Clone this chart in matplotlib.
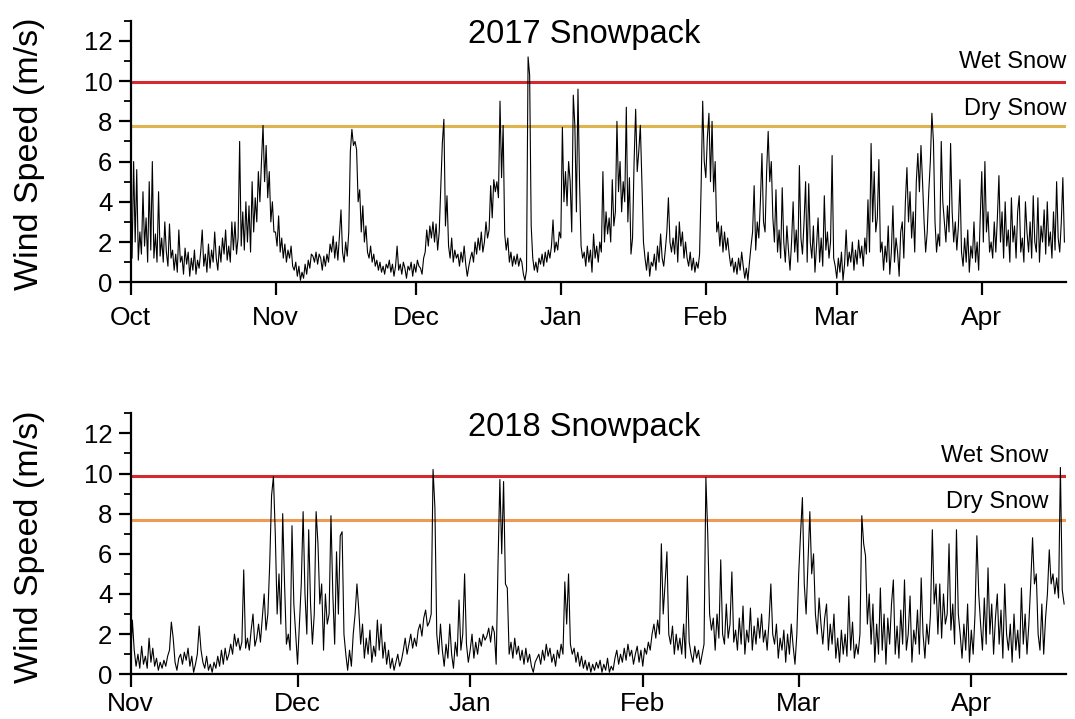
import matplotlib.pyplot as plt
import matplotlib.dates as mdates
from matplotlib.ticker import MultipleLocator
import pandas as pd

plt.rcParams['font.family'] = ['Liberation Sans', 'DejaVu Sans']

# Wind speed (m/s), three readings per day (every 8 h), one week per row
wind_2017 = [
    5.9, 1.2, 6.0, 2.0, 5.6, 1.1, 2.5, 1.4, 4.5, 1.8, 3.2, 1.0, 5.0, 1.6, 6.0, 1.2, 2.4, 1.0, 4.5, 1.3, 2.2,
    1.0, 3.0, 1.5, 0.8, 2.9, 1.2, 1.6, 0.6, 1.4, 0.5, 2.6, 1.0, 1.3, 0.4, 1.7, 0.9, 1.5, 0.3, 1.2, 0.6, 1.6,
    0.4, 1.1, 0.7, 1.5, 2.6, 0.8, 1.4, 0.5, 1.9, 0.7, 1.6, 1.0, 2.5, 1.2, 0.6, 1.8, 1.0, 2.2, 1.4, 2.6, 1.1,
    1.8, 1.0, 3.0, 1.6, 3.0, 1.4, 2.2, 7.0, 1.8, 3.5, 1.6, 4.0, 2.0, 3.8, 1.5, 5.0, 2.5, 4.2, 3.0, 5.5, 4.0,
    6.0, 7.8, 5.0, 6.8, 4.2, 5.5, 3.0, 4.0, 2.5, 2.5, 1.8, 3.3, 1.5, 2.2, 1.2, 1.9, 1.0, 1.6, 1.2, 1.8, 0.8,
    0.6, 1.0, 0.3, 0.8, 0.1, 0.5, 0.2, 0.9, 0.4, 1.1, 0.7, 1.4, 1.3, 1.0, 1.5, 0.9, 1.4, 1.2, 0.6, 1.3, 0.8,
    1.4, 1.0, 1.9, 1.5, 2.3, 1.2, 2.0, 1.1, 2.3, 3.6, 1.5, 1.0, 2.0, 1.3, 2.5, 6.5, 7.6, 6.8, 7.0, 6.6, 4.0,
    4.6, 2.5, 3.8, 2.0, 2.8, 1.5, 1.2, 1.8, 1.0, 1.4, 0.8, 1.1, 0.6, 1.0, 0.5, 0.8, 0.4, 0.9, 0.7, 1.1, 0.5,
    0.9, 0.3, 0.8, 1.8, 0.6, 0.9, 0.4, 1.0, 0.7, 0.2, 0.8, 0.6, 1.0, 0.3, 0.9, 0.5, 1.1, 0.8, 0.7, 0.4, 1.2,
    1.5, 2.6, 1.8, 2.8, 2.2, 3.0, 2.0, 2.9, 1.6, 2.5, 4.7, 6.9, 8.1, 2.8, 4.3, 1.8, 1.2, 2.2, 1.0, 1.6, 1.2,
    1.4, 0.8, 1.5, 1.0, 1.8, 0.9, 0.3, 0.8, 1.2, 1.5, 1.0, 2.0, 1.4, 2.2, 1.6, 2.5, 1.5, 2.0, 3.0, 2.2, 2.6,
    4.8, 3.2, 5.1, 4.5, 5.0, 4.2, 9.0, 5.2, 7.8, 2.4, 1.6, 2.2, 1.0, 1.5, 0.8, 1.3, 0.9, 1.4, 0.8, 1.2, 1.0,
    0.4, 0.1, 0.6, 11.2, 10.3, 2.8, 1.2, 0.6, 1.0, 0.5, 1.2, 0.9, 1.4, 0.8, 1.5, 1.0, 1.6, 1.2, 1.8, 3.1, 1.5,
    2.0, 1.6, 2.5, 2.2, 7.7, 4.0, 5.5, 3.8, 6.0, 5.0, 2.5, 9.3, 7.8, 3.5, 9.6, 5.0, 1.8, 1.2, 1.5, 0.8, 1.8,
    1.0, 1.6, 0.5, 2.4, 1.2, 1.8, 1.0, 2.0, 1.5, 5.5, 2.0, 3.5, 2.4, 3.2, 2.0, 5.1, 2.8, 3.5, 8.0, 4.5, 6.0,
    3.5, 5.0, 4.0, 8.7, 3.0, 5.2, 1.4, 2.2, 6.0, 8.6, 5.5, 6.5, 7.8, 5.0, 2.0, 1.2, 0.6, 1.5, 0.3, 1.0, 0.8,
    1.4, 0.6, 1.8, 1.0, 2.4, 1.2, 0.8, 1.6, 2.5, 4.2, 2.0, 1.5, 2.2, 1.4, 2.8, 1.0, 3.0, 1.8, 2.5, 1.2, 2.0,
    1.2, 0.8, 1.5, 0.6, 1.2, 0.5, 1.0, 0.7, 1.4, 4.8, 9.0, 6.0, 5.2, 7.2, 8.4, 5.0, 8.0, 4.5, 6.0, 2.5, 3.0,
    1.8, 2.8, 1.5, 2.5, 1.6, 2.2, 1.4, 0.8, 1.2, 0.5, 1.0, 0.4, 1.2, 0.6, 1.5, 0.8, 0.2, 0.7, 0.1, 1.0, 1.8,
    2.5, 4.8, 1.6, 3.0, 2.2, 4.0, 6.4, 3.0, 2.5, 5.5, 7.5, 5.0, 6.0, 3.2, 2.0, 4.6, 1.5, 2.6, 1.2, 4.7, 2.0,
    1.0, 2.8, 1.6, 0.6, 2.0, 4.0, 1.5, 2.6, 1.0, 5.8, 2.2, 1.4, 3.0, 5.0, 1.0, 4.9, 2.0, 1.2, 2.8, 0.5, 1.8,
    3.2, 1.0, 2.2, 0.8, 4.3, 1.6, 2.5, 1.2, 2.0, 6.3, 1.2, 0.8, 0.2, 1.2, 0.5, 1.5, 0.1, 0.9, 2.6, 0.8, 1.5,
    1.0, 2.0, 0.6, 1.6, 0.9, 2.1, 1.2, 1.8, 0.8, 2.2, 1.4, 4.1, 1.5, 6.9, 3.0, 5.5, 2.5, 3.2, 6.1, 1.5, 2.0,
    0.6, 1.8, 1.0, 2.8, 0.4, 1.5, 3.8, 1.0, 2.2, 1.5, 0.3, 2.5, 3.0, 1.2, 4.0, 5.7, 3.0, 4.5, 2.2, 3.5, 1.5,
    5.0, 6.4, 4.5, 6.8, 5.0, 3.0, 1.5, 2.5, 4.5, 6.0, 8.4, 7.0, 3.0, 1.5, 2.4, 1.8, 7.0, 4.0, 3.0, 2.0, 3.8,
    2.5, 6.9, 3.5, 2.0, 3.0, 1.6, 2.8, 5.1, 1.5, 0.8, 2.2, 1.0, 2.6, 0.5, 1.8, 1.2, 3.0, 1.0, 2.0, 0.6, 3.2,
    5.5, 2.0, 6.0, 2.5, 3.5, 1.5, 2.0, 1.2, 3.0, 1.5, 3.2, 5.3, 2.0, 3.5, 1.2, 4.0, 1.8, 2.6, 1.0, 4.2, 2.0,
    2.8, 1.2, 3.5, 4.3, 1.5, 2.2, 1.0, 4.0, 2.5, 1.5, 3.0, 1.2, 4.3, 2.0, 1.5, 4.2, 1.0, 2.8, 2.0, 3.6, 1.4,
    4.0, 1.8, 2.5, 1.2, 3.5, 1.6, 5.0, 2.2, 1.5, 3.0, 5.2, 2.0,
]

wind_2018 = [
    0.5, 2.7, 1.2, 0.4, 1.0, 0.3, 1.4, 0.5, 0.9, 0.3, 1.8, 0.6, 1.3, 0.4, 0.8, 0.2, 0.6, 0.3, 0.7, 0.4, 0.9,
    1.2, 2.6, 1.8, 0.6, 0.2, 0.8, 1.0, 0.5, 1.1, 0.7, 1.3, 0.4, 0.9, 0.1, 0.5, 1.0, 2.4, 1.2, 0.6, 0.3, 0.9,
    0.2, 0.5, 0.1, 0.6, 0.3, 0.9, 0.4, 1.2, 0.5, 1.3, 0.7, 1.0, 1.5, 1.0, 2.0, 1.4, 1.8, 1.2, 1.6, 5.2, 1.3,
    1.8, 1.2, 2.2, 3.0, 1.4, 1.8, 2.5, 1.6, 2.8, 4.0, 2.2, 3.0, 5.5, 8.9, 9.85, 7.0, 3.0, 5.0, 2.5, 8.0, 4.5,
    1.5, 2.0, 1.2, 7.4, 3.5, 2.0, 0.5, 2.5, 4.5, 8.1, 4.0, 2.0, 7.2, 3.5, 1.5, 3.0, 8.1, 6.5, 3.5, 4.5, 1.2,
    4.0, 2.5, 3.0, 7.9, 4.0, 1.5, 6.1, 3.0, 6.9, 7.1, 2.0, 1.0, 0.2, 1.2, 0.4, 2.0, 3.0, 4.5, 3.2, 1.5, 2.5,
    0.8, 1.8, 1.0, 2.2, 0.6, 1.4, 0.9, 2.7, 1.2, 2.5, 0.8, 1.6, 0.5, 1.2, 0.3, 0.8, 0.2, 0.6, 1.0, 0.4, 0.7,
    1.2, 1.8, 1.0, 1.5, 2.0, 1.3, 1.8, 1.4, 2.2, 2.5, 1.9, 2.8, 3.2, 2.4, 2.6, 3.0, 10.2, 8.3, 2.0, 1.0, 2.5,
    1.2, 0.4, 1.5, 0.8, 2.5, 1.0, 0.3, 1.6, 0.9, 3.7, 1.2, 2.0, 5.0, 1.5, 0.6, 1.2, 2.0, 0.8, 1.6, 1.0, 1.8,
    1.4, 2.0, 1.7, 1.9, 2.3, 1.6, 2.4, 2.1, 0.5, 5.5, 9.7, 6.0, 9.6, 4.5, 4.3, 1.0, 1.6, 0.8, 1.8, 1.0, 1.4,
    0.7, 1.2, 0.5, 1.3, 0.6, 1.0, 0.4, 0.1, 0.6, 0.8, 1.0, 0.5, 1.2, 0.7, 1.5, 0.9, 1.3, 0.6, 1.0, 0.4, 1.2,
    0.8, 1.5, 1.0, 4.6, 2.5, 5.0, 1.5, 1.0, 1.3, 0.6, 1.1, 0.4, 0.9, 0.3, 0.7, 0.2, 0.6, 0.1, 0.5, 0.2, 0.6,
    0.3, 0.7, 0.1, 0.5, 0.2, 0.8, 0.1, 0.4, 0.2, 0.8, 1.2, 0.5, 1.0, 0.6, 1.3, 0.7, 1.5, 0.9, 1.2, 0.5, 1.0,
    1.4, 0.6, 1.2, 0.4, 1.3, 1.0, 1.6, 1.2, 2.0, 2.5, 1.8, 2.7, 2.0, 6.5, 3.0, 4.5, 6.1, 2.0, 1.5, 2.4, 1.0,
    2.0, 1.2, 1.8, 1.0, 2.5, 0.8, 4.9, 1.6, 1.0, 0.6, 1.4, 0.8, 1.2, 0.5, 1.0, 1.5, 9.8, 7.0, 3.0, 2.2, 2.8,
    1.2, 3.0, 1.8, 5.7, 2.0, 1.5, 3.5, 1.8, 2.5, 5.1, 1.6, 2.2, 1.2, 2.8, 1.5, 3.4, 1.0, 2.2, 1.6, 3.3, 1.2,
    2.4, 1.5, 2.8, 1.8, 3.0, 1.6, 2.2, 1.2, 2.6, 4.5, 2.0, 1.5, 2.5, 0.8, 1.8, 1.2, 2.2, 0.6, 2.0, 1.0, 2.5,
    1.4, 0.5, 2.0, 5.0, 7.0, 8.8, 4.5, 3.0, 5.5, 8.1, 5.0, 6.0, 3.0, 2.0, 3.8, 2.5, 1.5, 2.8, 3.5, 1.2, 2.5,
    1.5, 3.0, 0.8, 1.8, 0.6, 2.2, 1.0, 2.0, 0.9, 3.9, 1.2, 2.6, 0.8, 1.5, 1.0, 2.0, 7.9, 6.5, 5.9, 2.5, 4.0,
    1.5, 3.5, 0.6, 2.5, 1.0, 4.3, 1.2, 3.0, 0.5, 2.8, 1.5, 3.5, 4.7, 1.0, 2.4, 0.8, 3.2, 1.5, 4.7, 1.2, 2.0,
    3.9, 0.6, 2.2, 1.5, 3.2, 1.0, 4.8, 2.0, 0.8, 2.5, 1.5, 3.0, 7.2, 3.5, 4.5, 2.0, 4.5, 1.8, 4.0, 2.5, 3.0,
    6.5, 2.2, 3.5, 1.5, 7.2, 3.0, 2.0, 0.8, 2.5, 1.2, 3.5, 0.6, 2.2, 1.0, 3.0, 6.9, 4.0, 2.5, 1.2, 3.8, 1.5,
    5.3, 2.0, 3.5, 1.0, 2.8, 4.0, 1.5, 3.2, 0.8, 4.5, 2.0, 1.2, 2.5, 0.6, 3.0, 1.2, 2.2, 0.8, 4.3, 1.5, 3.0,
    1.0, 2.5, 4.5, 6.8, 4.5, 5.0, 2.0, 1.2, 3.5, 1.0, 2.8, 4.0, 6.2, 4.5, 5.0, 4.0, 4.8, 3.8, 10.3, 4.2, 3.5,
]

seasons = [
    # title, readings, start, end, wet snow, dry snow, dry line colour
    ('2017 Snowpack', wind_2017, '2016-10-01', '2017-04-19', 9.97, 7.78, '#dfb44c'),
    ('2018 Snowpack', wind_2018, '2017-11-01', '2018-04-18', 9.88, 7.67, '#ee9a50'),
]
# right edge of the threshold labels, their baselines, and month label padding
label_right = [(1.0, 10.66, 8.32, 8), (0.981, 10.57, 8.28, 3.5)]

fig = plt.figure(figsize=(10.75, 7.19), dpi=100)
axes = [fig.add_axes([0.1214, 0.6074, 0.8702, 0.3638]),
        fig.add_axes([0.1214, 0.0622, 0.8702, 0.3630])]

for ax, season, lab in zip(axes, seasons, label_right):
    title, wind, start, end, wet, dry, dry_color = season
    times = pd.date_range(start, periods=len(wind), freq='8h')

    ax.axhline(wet, color='#d42a2f', lw=2.2, zorder=1)
    ax.axhline(dry, color=dry_color, lw=2.2, zorder=1)
    ax.plot(times, wind, color='black', lw=0.8, zorder=2)

    ax.set_xlim(pd.Timestamp(start), pd.Timestamp(end))
    ax.set_ylim(0, 13)

    ax.xaxis.set_major_locator(mdates.MonthLocator())
    ax.xaxis.set_major_formatter(mdates.DateFormatter('%b'))
    ax.yaxis.set_major_locator(MultipleLocator(2))
    ax.yaxis.set_minor_locator(MultipleLocator(1))

    for side in ['top', 'right']:
        ax.spines[side].set_visible(False)
    for side in ['left', 'bottom']:
        ax.spines[side].set_linewidth(1.6)

    ax.tick_params(axis='both', which='major', length=9, width=1.6)
    ax.tick_params(axis='y', which='minor', length=5, width=1.3)
    ax.tick_params(axis='y', which='major', pad=4, labelsize=18.5)
    ax.tick_params(axis='x', which='major', pad=lab[3], labelsize=19)

    ax.set_ylabel('Wind Speed (m/s)', fontsize=24.5)
    ax.yaxis.set_label_coords(-0.091, 0.49)

    ax.text(0.485, 11.87, title, transform=ax.get_yaxis_transform(),
            ha='center', va='baseline', fontsize=23.5)
    ax.text(lab[0], lab[1], 'Wet Snow', transform=ax.get_yaxis_transform(),
            ha='right', va='baseline', fontsize=17)
    ax.text(lab[0], lab[2], 'Dry Snow', transform=ax.get_yaxis_transform(),
            ha='right', va='baseline', fontsize=17)

fig.savefig('out.png', dpi=100)
